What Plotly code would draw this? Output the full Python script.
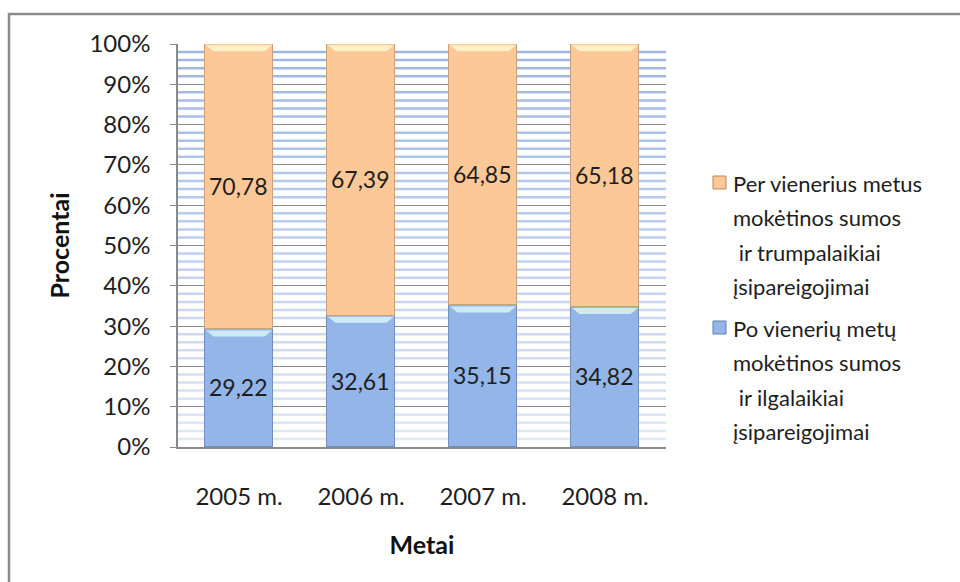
import plotly.graph_objects as go

# ---- data -------------------------------------------------------------
years = ["2005 m.", "2006 m.", "2007 m.", "2008 m."]
long_term = [29.22, 32.61, 35.15, 34.82]      # Po vienerių metų ...
short_term = [70.78, 67.39, 64.85, 65.18]     # Per vienerius metus ...
y_ticks = [0, 10, 20, 30, 40, 50, 60, 70, 80, 90, 100]
y_tick_labels = ["0%", "10%", "20%", "30%", "40%", "50%", "60%", "70%", "80%", "90%", "100%"]

legend_short = ["Per vienerius metus", "mokėtinos sumos", "\u00a0ir trumpalaikiai", "įsipareigojimai"]
legend_long = ["Po vienerių metų", "mokėtinos sumos", "\u00a0ir ilgalaikiai", "įsipareigojimai"]

# ---- styling ----------------------------------------------------------
W, H = 960, 582
L, R, T, B = 178, 294, 44, 135
FONT = "Lato"
TXT = "#1e1e1e"
ORANGE, ORANGE_EDGE, ORANGE_HI = "#fcc898", "#c9a07a", "#fff2c8"
BLUE, BLUE_EDGE, BLUE_HI = "#93b5e8", "#6f8fbf", "#d2ecfc"
BAR_W = 0.56

x_pos = list(range(len(years)))


def px_x(px):
    return (px - L) / (W - L - R)


def px_y(py):
    return (H - B - py) / (H - T - B)


def fmt(v):
    return f"{v:.2f}".replace(".", ",")


fig = go.Figure()
fig.add_bar(
    x=x_pos, y=long_term, width=BAR_W, name="Po vienerių metų",
    marker=dict(color=BLUE, line=dict(color=BLUE_EDGE, width=1.5)),
    text=[fmt(v) for v in long_term], textposition="inside",
    insidetextanchor="middle", textfont=dict(family=FONT, size=23, color=TXT),
    showlegend=False,
)
fig.add_bar(
    x=x_pos, y=short_term, width=BAR_W, name="Per vienerius metus",
    marker=dict(color=ORANGE, line=dict(color=ORANGE_EDGE, width=1.5)),
    text=[fmt(v) for v in short_term], textposition="inside",
    insidetextanchor="middle", textfont=dict(family=FONT, size=23, color=TXT),
    showlegend=False,
)

shapes = []

# striped plot background, darker toward the top
top_c = (157, 180, 230)
bot_c = (226, 233, 246)
for k in range(1, 50):
    if k % 5 == 0:
        continue
    yv = 2 * k
    t = yv / 100
    c = tuple(round(bot_c[i] + (top_c[i] - bot_c[i]) * t) for i in range(3))
    shapes.append(dict(type="line", xref="paper", yref="y", x0=0, x1=1, y0=yv, y1=yv,
                       line=dict(color=f"rgb{c}", width=2.5), layer="below"))

# bevel highlight on the top of every bar segment
bev_h, bev_d = 1.8, 0.06
for i, x in enumerate(x_pos):
    tops = [(long_term[i], BLUE_HI), (long_term[i] + short_term[i], ORANGE_HI)]
    for top, col in tops:
        x0, x1 = x - BAR_W / 2 + 0.01, x + BAR_W / 2 - 0.01
        path = (f"M {x0},{top - 0.3} L {x1},{top - 0.3} "
                f"L {x1 - bev_d},{top - bev_h} L {x0 + bev_d},{top - bev_h} Z")
        shapes.append(dict(type="path", xref="x", yref="y", path=path,
                           fillcolor=col, line=dict(width=0), opacity=0.95, layer="above"))

# outer chart frame (left and top edges)
shapes.append(dict(type="path", xref="paper", yref="paper",
                   path=f"M {px_x(9)},{px_y(600)} L {px_x(9)},{px_y(14)} L {px_x(965)},{px_y(14)}",
                   line=dict(color="#8a8a8a", width=2.5)))

# legend swatches and labels
annotations = []
for y0, fill, edge, lines in [(176, ORANGE, "#b9875a", legend_short),
                              (321, BLUE, "#5f7fb0", legend_long)]:
    shapes.append(dict(type="rect", xref="paper", yref="paper",
                       x0=px_x(713), x1=px_x(726), y0=px_y(y0 + 13), y1=px_y(y0),
                       fillcolor=fill, line=dict(color=edge, width=1)))
    for j, line in enumerate(lines):
        annotations.append(dict(
            text=line, xref="paper", yref="paper", x=px_x(731), y=px_y(y0 + 7 + 34.5 * j),
            xanchor="left", yanchor="middle", showarrow=False,
            font=dict(family=FONT, size=22, color=TXT)))

fig.update_layout(
    width=W, height=H,
    margin=dict(l=L, r=R, t=T, b=B, pad=0),
    paper_bgcolor="white", plot_bgcolor="white",
    barmode="stack", bargap=0,
    shapes=shapes, annotations=annotations,
    font=dict(family=FONT, color=TXT),
)
fig.update_xaxes(
    range=[-0.5, 3.5], tickvals=x_pos, ticktext=years,
    showgrid=False, zeroline=False,
    showline=True, linecolor="#8a8a8a", linewidth=1.5,
    ticks="outside", ticklen=27, tickcolor="rgba(0,0,0,0)",
    tickfont=dict(family=FONT, size=24, color=TXT),
    title=dict(text="<b>Metai</b>", font=dict(family=FONT, size=25, color="#111"), standoff=28),
)
fig.update_yaxes(
    range=[0, 100], tickvals=y_ticks, ticktext=y_tick_labels,
    showgrid=True, gridcolor="#8c8c8c", gridwidth=1, zeroline=False,
    showline=True, linecolor="#8a8a8a", linewidth=1.5,
    ticks="outside", ticklen=6, tickcolor="#8a8a8a",
    ticklabelstandoff=15,
    tickfont=dict(family=FONT, size=24, color=TXT),
    title=dict(text="<b>Procentai</b>", font=dict(family=FONT, size=25, color="#111"), standoff=13),
)

fig.write_html("out.html")
